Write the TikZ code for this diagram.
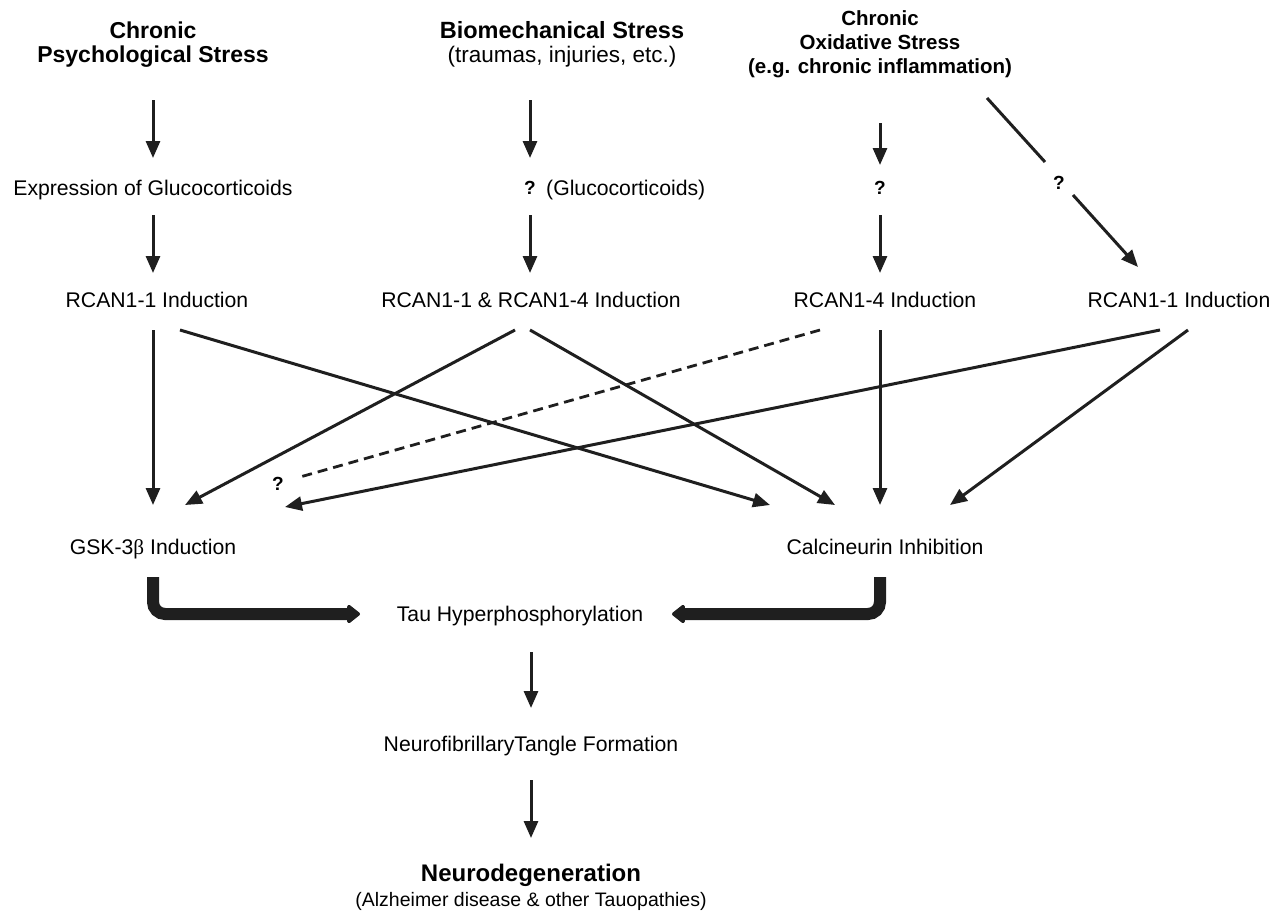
\documentclass[tikz,border=0pt]{standalone}
\usepackage{fontspec}
\setmainfont{Liberation Sans}
\newfontfamily\serifb{Liberation Serif}
\usetikzlibrary{arrows.meta,calc}
\begin{document}
\begin{tikzpicture}[x=1pt,y=-1pt,
  txt/.style={inner sep=0pt,text depth=0pt,align=center,font=\fontsize{21.2}{24}\selectfont},
  ttl/.style={inner sep=0pt,text depth=0pt,align=center,font=\fontsize{23}{24}\selectfont\bfseries},
  ttlsmall/.style={inner sep=0pt,text depth=0pt,align=center,font=\fontsize{20.5}{24}\selectfont\bfseries},
  qm/.style={inner sep=0pt,text depth=0pt,font=\fontsize{19}{24}\selectfont\bfseries},
  arr/.style={draw=black!88,line width=3pt,-{Triangle[length=17pt,width=14pt]}},
  plain/.style={draw=black!88,line width=3pt},
  dsh/.style={draw=black!88,line width=2.8pt,dash pattern=on 10pt off 6pt},
  thickarr/.style={draw=black!88,line width=12pt,rounded corners=12pt,-{Triangle[length=14pt,width=21pt,round]}}]
\useasboundingbox (0,0) rectangle (1282,911);
% titles
\node[ttl] (psy) at (153,42) {Chronic\\Psychological Stress};
\node[inner sep=0pt,text depth=0pt,align=center,font=\fontsize{22.5}{24}\selectfont] (bio) at (562,42) {{\fontsize{23.5}{24}\selectfont\bfseries Biomechanical Stress}\\(traumas, injuries, etc.)};
\node[ttlsmall] (ox) at (880,42) {Chronic\\Oxidative Stress\\(e.g. chronic inflammation)};
% row 2
\node[txt] (expr) at (153,188) {Expression of Glucocorticoids};
\node[qm] (q1) at (530,188) {?};
\node[txt,anchor=west] (gl) at (546,188) {(Glucocorticoids)};
\node[qm] (q2) at (880,188) {?};
\node[qm] (q3) at (1059,183) {?};
% row 3
\node[txt] (r11a) at (157,300) {RCAN1-1 Induction};
\node[txt] (r1114) at (531,300) {RCAN1-1 \& RCAN1-4 Induction};
\node[txt] (r14) at (885,300) {RCAN1-4 Induction};
\node[txt] (r11b) at (1179,300) {RCAN1-1 Induction};
% row 4
\node[qm] (q4) at (278,484) {?};
\node[txt] (gsk) at (153,547) {GSK-3{\serifb β} Induction};
\node[txt] (cal) at (885,547) {Calcineurin Inhibition};
\node[txt] (tau) at (520,614) {Tau Hyperphosphorylation};
\node[txt] (nft) at (531,744) {NeurofibrillaryTangle Formation};
\node[inner sep=0pt,text depth=0pt,align=center,font=\fontsize{19.5}{25}\selectfont] (neuro) at (531,885) {{\fontsize{24}{25}\selectfont\bfseries Neurodegeneration}\\(Alzheimer disease \& other Tauopathies)};
% connectors
\draw[arr] ($(psy)+(0,58)$) -- ($(expr)+(0,-30)$);
\draw[arr] ($(bio)+(-32,58)$) -- ($(q1)+(0,-30)$);
\draw[arr] ($(ox)+(0,81)$) -- ($(q2)+(0,-23)$);
\draw[arr] ($(expr)+(0,27)$) -- ($(r11a)+(-4,-27)$);
\draw[arr] ($(q1)+(0,27)$) -- ($(r1114)+(-1,-27)$);
\draw[arr] ($(q2)+(0,27)$) -- ($(r14)+(-5,-27)$);
\draw[plain] ($(ox)+(107,56)$) -- ($(q3)+(-14,-21)$);
\draw[arr] ($(q3)+(14,12)$) -- ($(r11b)+(-41,-33)$);
\draw[arr] ($(r11a)+(-4,30)$) -- ($(gsk)+(0,-42)$);
\draw[arr] ($(r11a)+(23,30)$) -- ($(cal)+(-115,-42)$);
\draw[arr] ($(r1114)+(-16,30)$) -- ($(gsk)+(32,-42)$);
\draw[arr] ($(r1114)+(-1,30)$) -- ($(cal)+(-50,-42)$);
\draw[dsh] ($(r14)+(-65,30)$) -- ($(q4)+(22,-7)$);
\draw[arr] ($(r14)+(-5,30)$) -- ($(cal)+(-5,-42)$);
\draw[arr] ($(r11b)+(-19,30)$) -- ($(gsk)+(132,-40)$);
\draw[arr] ($(r11b)+(9,30)$) -- ($(cal)+(65,-42)$);
\draw[thickarr] ($(gsk)+(0,30)$) |- ($(tau)+(-160,0)$);
\draw[thickarr] ($(cal)+(-5,30)$) |- ($(tau)+(152,0)$);
\draw[arr] ($(tau)+(11,38)$) -- ($(nft)+(0,-36)$);
\draw[arr] ($(nft)+(0,36)$) -- ($(neuro)+(0,-47)$);
\end{tikzpicture}
\end{document}
